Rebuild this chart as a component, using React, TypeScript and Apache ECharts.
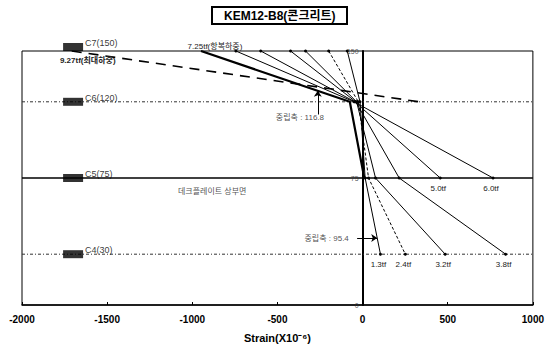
import React, { useEffect, useRef } from "react";
import * as echarts from "echarts";

// Gauge heights (mm) and names
const heights = [150, 120, 75, 30];
const gaugeNames = ["C7(150)", "C6(120)", "C5(75)", "C4(30)"];
const gaugeMarkerStrain = -1700;

// Strain profiles (x10^-6) at C7, C6, C5, C4 for each load
const loadNames = ["1.3tf", "2.4tf", "3.2tf", "3.8tf", "5.0tf", "6.0tf", "7.25tf(항복하중)", "9.27tf(최대하중)"];
const strain13 = [-90, -15, 15, 105];
const strain24 = [-199, -25, 35, 251];
const strain32 = [-335, -35, 76, 485];
const strain38 = [-423, -40, 215, 840];
const strain50 = [-598, -45, 456];
const strain60 = [-744, -50, 766];
const strain725 = [-949, -75, 10];
const strain927 = [-1708, 333];

const xTicks = { min: -2000, max: 1000, interval: 500 };
const yTicks = { min: 0, max: 150, interval: 75 };
const yTickLabels = [0, 75, 150];

const refLevels = [120, 75, 30];

const naText = ["중립축 : 116.8", "중립축 : 95.4"];
const naTextPos = [[-368, 111], [-211, 39]];
const naArrows = [
  [[-263, 112.5], [-263, 126.5]],
  [[-32, 39.5], [86, 39.5]],
];
const deckText = "데크플레이트 상부면";
const deckPos = [-883, 67.3];

const FONT = "'Liberation Sans', 'Noto Sans CJK KR', sans-serif";

export default function App() {
  const ref = useRef<HTMLDivElement>(null);
  useEffect(() => {
    if (!ref.current) return;
    const chart = echarts.init(ref.current, undefined, { renderer: "svg" });
    const profiles = [strain13, strain24, strain32, strain38, strain50, strain60, strain725, strain927];
    const styles: any[] = [
      { width: 1, type: "solid" },
      { width: 1, type: [3, 2] },
      { width: 1, type: "solid" },
      { width: 1, type: "solid" },
      { width: 1, type: "solid" },
      { width: 1, type: "solid" },
      { width: 2.2, type: "solid" },
      { width: 1.6, type: [10, 7] },
    ];
    const profileSeries = profiles.map((arr, k) => {
      const data: any[] = arr.map((s, i) => ({ value: [s, heights[i]] }));
      if (k < 6) {
        const last = data[data.length - 1];
        last.label = {
          show: true,
          position: "bottom",
          distance: 5,
          offset: [-2, 0],
          formatter: loadNames[k],
          fontSize: 8,
          color: "#222",
          fontFamily: FONT,
        };
      } else if (k === 6) {
        data[0].label = {
          show: true,
          position: "top",
          distance: 1,
          offset: [14, 0],
          formatter: loadNames[k],
          fontSize: 8,
          color: "#222",
          fontFamily: FONT,
        };
      } else {
        data[0].label = {
          show: true,
          position: "bottom",
          distance: 5,
          offset: [16, 0],
          formatter: loadNames[k],
          fontSize: 8,
          fontWeight: "bold",
          color: "#222",
          fontFamily: FONT,
        };
      }
      return {
        type: "line",
        name: loadNames[k],
        data,
        symbol: "circle",
        symbolSize: k < 6 ? 3 : 0,
        showSymbol: true,
        itemStyle: { color: "#000" },
        lineStyle: { color: "#000", width: styles[k].width, type: styles[k].type },
        z: k === 7 ? 3 : 4,
      };
    });

    const refSeries = refLevels.map((lv) => ({
      type: "line",
      data: [[xTicks.min, lv], [xTicks.max, lv]],
      symbol: "none",
      lineStyle: lv === 75 ? { color: "#000", width: 1.5, type: "solid" } : { color: "#333", width: 1, type: [3, 2, 1, 2] },
      z: 2,
      silent: true,
    }));

    const gaugeSeries = {
      type: "scatter",
      symbol: "rect",
      symbolSize: [20, 8],
      itemStyle: { color: "#000" },
      data: gaugeNames.map((n, i) => ({
        name: n,
        value: [gaugeMarkerStrain, heights[i]],
        symbolOffset: i === 0 ? [0, -4] : [0, 0],
      })),
      label: {
        show: true,
        position: "right",
        distance: 2,
        offset: [0, -4],
        formatter: "{b}",
        fontSize: 9,
        color: "#000",
        fontFamily: FONT,
      },
      z: 6,
      silent: true,
    };

    const yLabelSeries = {
      type: "scatter",
      symbolSize: 0,
      data: yTickLabels.map((v) => ({ name: String(v), value: [0, v] })),
      label: {
        show: true,
        position: "left",
        distance: 4,
        formatter: "{b}",
        fontSize: 7,
        color: "#333",
        fontFamily: FONT,
      },
      z: 7,
      silent: true,
    };

    const textSeries = {
      type: "scatter",
      symbolSize: 1,
      itemStyle: { color: "rgba(0,0,0,0)" },
      data: [
        { name: naText[0], value: naTextPos[0] },
        { name: naText[1], value: naTextPos[1] },
        { name: deckText, value: deckPos },
      ],
      label: {
        show: true,
        position: "inside",
        formatter: "{b}",
        fontSize: 8,
        color: "#222",
        fontFamily: FONT,
      },
      markLine: {
        silent: true,
        symbol: ["none", "arrow"],
        symbolSize: 6,
        label: { show: false },
        lineStyle: { color: "#000", width: 1, type: "solid" },
        data: naArrows.map((a) => [{ coord: a[0] }, { coord: a[1] }]),
      },
      z: 7,
      silent: true,
    };

    chart.setOption({
      animation: false,
      title: {
        text: "KEM12-B8(콘크리트)",
        left: 212,
        top: 7,
        padding: [3, 12, 2, 12],
        borderWidth: 2,
        borderColor: "#000",
        textStyle: { fontSize: 12, fontWeight: "bold", color: "#000", fontFamily: FONT },
      },
      grid: {
        left: 22,
        right: 12,
        top: 51,
        bottom: 49,
        show: true,
        borderColor: "#000",
        borderWidth: 1,
      },
      xAxis: {
        type: "value",
        min: xTicks.min,
        max: xTicks.max,
        interval: xTicks.interval,
        name: "Strain(X10⁻⁶)",
        nameLocation: "middle",
        nameGap: 27,
        nameTextStyle: { fontSize: 11, fontWeight: "bold", color: "#000", fontFamily: FONT },
        axisLine: { lineStyle: { color: "#000", width: 1.5 } },
        axisTick: { inside: true, length: 3, lineStyle: { color: "#000" } },
        axisLabel: {
          margin: 9,
          fontSize: 10,
          fontWeight: "bold",
          color: "#000",
          fontFamily: FONT,
          formatter: (v: number) => String(v),
        },
        splitLine: { show: false },
      },
      yAxis: {
        type: "value",
        min: yTicks.min,
        max: yTicks.max,
        interval: yTicks.interval,
        axisLine: { show: true, onZero: true, lineStyle: { color: "#000", width: 2 } },
        axisTick: { show: false },
        axisLabel: { show: false },
        splitLine: { show: false },
      },
      series: [...refSeries, ...profileSeries, gaugeSeries, yLabelSeries, textSeries],
    });
    return () => chart.dispose();
  }, []);
  return (
    <div
      ref={ref}
      style={{ position: "fixed", left: 0, top: 0, width: 547, height: 354, background: "#fff" }}
    />
  );
}
